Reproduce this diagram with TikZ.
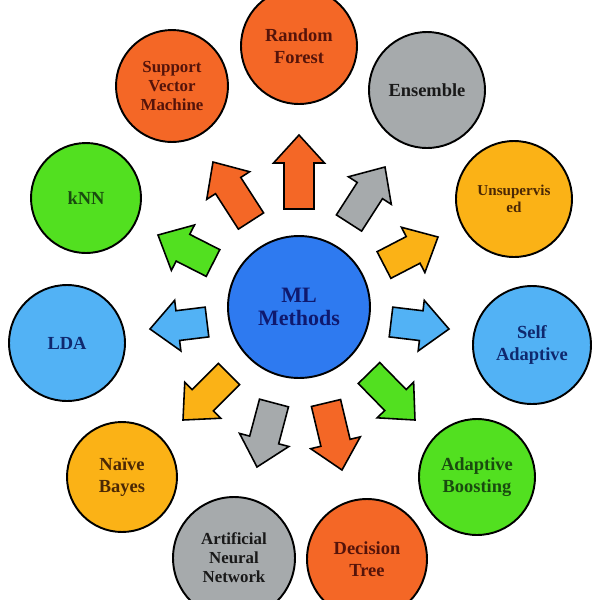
\documentclass[tikz,border=0pt]{standalone}
\usepackage{fontspec}
\setmainfont{Liberation Serif}
\usetikzlibrary{calc}
\definecolor{corange}{RGB}{244,103,38}
\definecolor{cgray}{RGB}{166,170,172}
\definecolor{cyellow}{RGB}{251,178,22}
\definecolor{clblue}{RGB}{82,178,245}
\definecolor{cgreen}{RGB}{82,224,32}
\definecolor{cblue}{RGB}{46,122,240}
\definecolor{tbrown}{RGB}{85,20,10}
\definecolor{tdark}{RGB}{25,25,25}
\definecolor{tyb}{RGB}{75,40,5}
\definecolor{tnavy}{RGB}{15,40,110}
\definecolor{tgreen}{RGB}{25,75,15}
\definecolor{tcenter}{RGB}{15,25,110}
\newcommand{\blockarr}[4]{%
  \coordinate (#1b) at #3;
  \coordinate (#1t) at #4;
  \coordinate (#1h) at ($(#1t)!0.56cm!(#1b)$);
  \draw[arrline, fill=#2] ($(#1b)!0.3cm!90:(#1t)$) -- ($(#1h)!0.3cm!90:(#1t)$)
    -- ($(#1h)!0.51cm!90:(#1t)$) -- (#1t) -- ($(#1h)!0.51cm!-90:(#1t)$)
    -- ($(#1h)!0.3cm!-90:(#1t)$) -- ($(#1b)!0.3cm!-90:(#1t)$) -- cycle;
}
\begin{document}
\begin{tikzpicture}[x=0.02cm,y=-0.02cm,
  bub/.style={circle, draw=black, line width=1.1pt, inner sep=0pt, align=center,
    font=\bfseries\fontsize{10.5}{12.5}\selectfont},
  three/.style={font=\bfseries\fontsize{9.6}{10.8}\selectfont},
  arrline/.style={draw=black, line width=0.9pt, line join=miter}]
\useasboundingbox (0,0) rectangle (600,600);
\clip (0,0) rectangle (600,600);
\fill[white] (0,0) rectangle (600,600);

% arrows
\blockarr{a1}{corange}{(299,209)}{(299,135)}
\blockarr{a2}{corange}{(251,221)}{(213,162)}
\blockarr{a3}{cgreen}{(213,263)}{(158,235)}
\blockarr{a4}{clblue}{(207,322)}{(150,329)}
\blockarr{a5}{cyellow}{(229,374)}{(183,420)}
\blockarr{a6}{cgray}{(274,403)}{(257,467)}
\blockarr{a7}{corange}{(326,403)}{(342,470)}
\blockarr{a8}{cgreen}{(369,373)}{(415,420)}
\blockarr{a9}{clblue}{(391,322)}{(449,329)}
\blockarr{a10}{cyellow}{(384,265)}{(438,237)}
\blockarr{a11}{cgray}{(349,223)}{(385,167)}

% circles
\node[bub, fill=cblue, text=tcenter, minimum size=2.84cm,
  font=\bfseries\fontsize{12.5}{13}\selectfont] (ml) at (299,307) {ML\\Methods};
\node[bub, fill=corange, text=tbrown, minimum size=2.32cm] (rf) at (299,46) {Random\\Forest};
\node[bub, three, fill=corange, text=tbrown, minimum size=2.24cm] (svm) at (172,86) {Support\\Vector\\Machine};
\node[bub, fill=cgreen, text=tgreen, minimum size=2.2cm] (knn) at (86,198) {kNN};
\node[bub, fill=clblue, text=tnavy, minimum size=2.32cm] (lda) at (67,343) {LDA};
\node[bub, fill=cyellow, text=tyb, minimum size=2.2cm] (nb) at (122,477) {Naïve\\Bayes};
\node[bub, three, fill=cgray, text=tdark, minimum size=2.44cm] (ann) at (234,558) {Artificial\\Neural\\Network};
\node[bub, fill=corange, text=tbrown, minimum size=2.4cm] (dt) at (367,559) {Decision\\Tree};
\node[bub, fill=cgreen, text=tgreen, minimum size=2.32cm] (ab) at (477,477) {Adaptive\\Boosting};
\node[bub, fill=clblue, text=tnavy, minimum size=2.36cm] (sa) at (532,345) {Self\\Adaptive};
\node[bub, fill=cyellow, text=tyb, minimum size=2.32cm,
  font=\bfseries\fontsize{8.6}{10}\selectfont] (un) at (514,199) {Unsupervis\\ed};
\node[bub, fill=cgray, text=tdark, minimum size=2.32cm] (en) at (427,90) {Ensemble};
\end{tikzpicture}
\end{document}
